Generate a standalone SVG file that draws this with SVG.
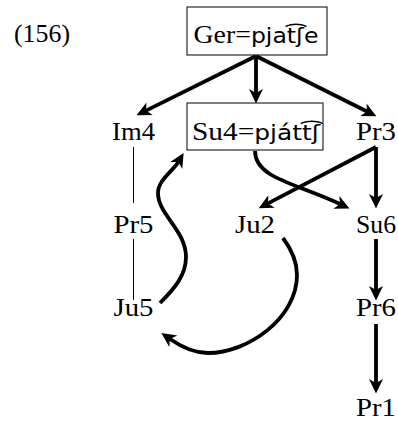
<svg xmlns="http://www.w3.org/2000/svg" width="398" height="423" viewBox="0 0 398 423">
<style>
text{font-family:"Liberation Serif","Times New Roman",serif;font-size:26px;fill:#000;text-anchor:middle}
.ipa{font-family:"DejaVu Sans","Noto Sans",sans-serif;font-size:22px}
.box{fill:#fff;stroke:#000;stroke-width:1}
.arr{fill:none;stroke:#000;stroke-width:3.8;marker-end:url(#ah)}
.thin{fill:none;stroke:#000;stroke-width:1}
</style>
<defs>
<marker id="ah" markerUnits="userSpaceOnUse" markerWidth="18" markerHeight="18" viewBox="-1 -9 18 18" refX="4" refY="0" orient="auto">
<path d="M14.5,0 L0,-7 L4,0 L0,7 Z" fill="#000"/>
</marker>
</defs>
<text x="42" y="42" textLength="56" lengthAdjust="spacingAndGlyphs">(156)</text>
<g id="connectors">
<path class="arr" d="M256,56 L146,110.6"/>
<path class="arr" d="M256,56 L256,93"/>
<path class="arr" d="M256,56 L367,111.5"/>
<path class="arr" d="M376,147 L376,198"/>
<path class="arr" d="M376,147 L268,203.4"/>
<path class="arr" d="M255,151 C255,178 295,183 340,204"/>
<path class="arr" d="M160,303 C175,288 186,275 186,257 C186,230 158,215 158,193 C158,180 173,171 178.3,162"/>
<path class="arr" d="M283,238 C292,250 297,262 297,275 C297,318 248,353 208,353 C192,353 180,346 170,339"/>
<path class="arr" d="M376,239 L376,290"/>
<path class="arr" d="M376,324 L376,383"/>
<path class="thin" d="M133.5,147 L133.5,203"/>
<path class="thin" d="M133.5,239 L133.5,300"/>
</g>
<g id="Ger"><rect class="box" x="187" y="7" width="140" height="48"/><text x="256" y="43" textLength="125" lengthAdjust="spacingAndGlyphs">Ger=<tspan class="ipa">pjat͡ʃe</tspan></text></g>
<g id="Im4"><text x="133.5" y="140" textLength="43" lengthAdjust="spacingAndGlyphs">Im4</text></g>
<g id="Su4"><rect class="box" x="187" y="103" width="136" height="47"/><text x="256" y="140" textLength="128" lengthAdjust="spacingAndGlyphs">Su4=<tspan class="ipa">pjátt͡ʃ</tspan></text></g>
<g id="Pr3"><text x="376" y="140" textLength="40" lengthAdjust="spacingAndGlyphs">Pr3</text></g>
<g id="Pr5"><text x="133.5" y="233" textLength="40" lengthAdjust="spacingAndGlyphs">Pr5</text></g>
<g id="Ju2"><text x="255" y="233" textLength="40" lengthAdjust="spacingAndGlyphs">Ju2</text></g>
<g id="Su6"><text x="376" y="233" textLength="40" lengthAdjust="spacingAndGlyphs">Su6</text></g>
<g id="Ju5"><text x="133.5" y="316" textLength="40" lengthAdjust="spacingAndGlyphs">Ju5</text></g>
<g id="Pr6"><text x="376" y="316" textLength="40" lengthAdjust="spacingAndGlyphs">Pr6</text></g>
<g id="Pr1"><text x="376" y="416" textLength="40" lengthAdjust="spacingAndGlyphs">Pr1</text></g>
</svg>
